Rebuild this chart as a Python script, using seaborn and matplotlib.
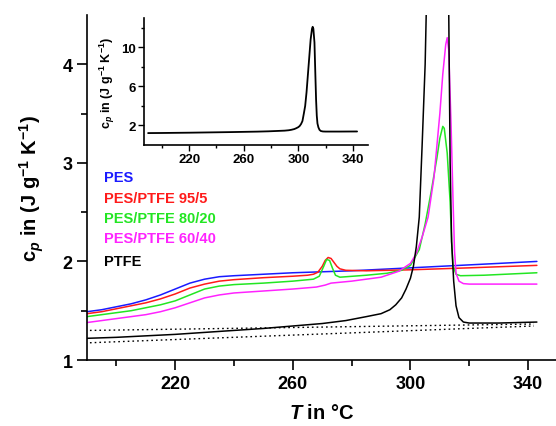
import matplotlib
matplotlib.use("Agg")
import matplotlib.pyplot as plt
import seaborn as sns
import pandas as pd
from matplotlib.ticker import FixedLocator

# ---------------- data ----------------
T_pes = [190, 195, 200, 205, 210, 215, 220, 225, 230, 235, 240, 250, 260, 270, 280, 290, 300, 310, 320, 330, 343]
cp_pes = [1.49, 1.51, 1.54, 1.57, 1.61, 1.66, 1.72, 1.78, 1.82, 1.845, 1.855, 1.87, 1.885, 1.895, 1.905, 1.92, 1.935, 1.95, 1.965, 1.98, 2.0]

T_955 = [190, 195, 200, 205, 210, 215, 220, 225, 230, 235, 240, 250, 260, 265, 267, 268.5, 270, 271, 272, 273, 274, 275, 276, 278, 285, 300, 320, 343]
cp_955 = [1.47, 1.49, 1.52, 1.55, 1.58, 1.62, 1.67, 1.73, 1.77, 1.80, 1.815, 1.835, 1.85, 1.86, 1.87, 1.89, 1.95, 2.01, 2.04, 2.03, 1.99, 1.95, 1.925, 1.91, 1.905, 1.915, 1.935, 1.96]

T_8020 = [190, 195, 200, 205, 210, 215, 220, 225, 230, 235, 240, 250, 260, 267, 269, 270.5, 271.5, 272.5, 273.5, 274.5, 276, 285, 292, 297, 300, 303, 305, 307, 309, 310, 311, 311.5, 312.5, 313.5, 314, 314.5, 315.5, 317, 325, 343]
cp_8020 = [1.44, 1.46, 1.48, 1.50, 1.53, 1.56, 1.60, 1.66, 1.72, 1.75, 1.765, 1.78, 1.80, 1.82, 1.85, 1.95, 2.02, 2.01, 1.93, 1.86, 1.84, 1.86, 1.88, 1.91, 1.96, 2.12, 2.38, 2.70, 3.05, 3.25, 3.37, 3.35, 3.10, 2.60, 2.20, 1.95, 1.87, 1.855, 1.86, 1.885]

T_6040 = [190, 195, 200, 205, 210, 215, 220, 225, 230, 235, 240, 250, 260, 268, 271, 273, 280, 290, 296, 300, 302, 304, 306, 308, 310, 311, 312, 312.5, 313, 313.8, 314.5, 315, 315.5, 316.5, 318, 320, 343]
cp_6040 = [1.38, 1.40, 1.42, 1.44, 1.46, 1.49, 1.53, 1.58, 1.63, 1.66, 1.68, 1.70, 1.72, 1.74, 1.76, 1.78, 1.80, 1.84, 1.90, 1.98, 2.08, 2.25, 2.45, 2.85, 3.50, 3.90, 4.20, 4.27, 4.15, 3.40, 2.60, 2.10, 1.88, 1.80, 1.775, 1.77, 1.77]

T_ptfe = [190, 200, 210, 220, 230, 240, 250, 260, 270, 278, 285, 290, 293, 295, 297, 298.5, 300, 301, 302, 303, 304, 305, 306, 307, 308, 309, 310, 310.5, 311, 311.8, 312.5, 313, 313.5, 314, 314.7, 315.5, 316.5, 318, 320, 330, 343]
cp_ptfe = [1.22, 1.23, 1.245, 1.26, 1.28, 1.30, 1.32, 1.345, 1.37, 1.40, 1.44, 1.47, 1.51, 1.56, 1.63, 1.72, 1.83, 1.95, 2.15, 2.45, 3.20, 4.00, 5.40, 7.20, 9.00, 10.80, 11.90, 12.10, 11.90, 10.50, 7.00, 4.60, 3.00, 2.20, 1.80, 1.55, 1.43, 1.385, 1.375, 1.375, 1.385]

T_base = [191, 342]
cp_base_upper = [1.30, 1.365]
cp_base_lower = [1.175, 1.345]

labels = ["PES", "PES/PTFE 95/5", "PES/PTFE 80/20", "PES/PTFE 60/40", "PTFE"]
colors = ["#1a1aff", "#ff1a1a", "#22e622", "#ff22ff", "#000000"]

main_xticks = [220, 260, 300, 340]
main_xminor = [200, 240, 280, 320]
main_yticks = [1, 2, 3, 4]
main_yminor = [1.5, 2.5, 3.5]
inset_xticks = [220, 260, 300, 340]
inset_xminor = [200, 240, 280, 320]
inset_yticks = [2, 6, 10]
inset_yminor = [4, 8, 12]

# ---------------- style ----------------
sns.set_style("ticks")
plt.rcParams["font.family"] = ["Liberation Sans", "DejaVu Sans"]
plt.rcParams["font.weight"] = "bold"
plt.rcParams["mathtext.fontset"] = "custom"
plt.rcParams["mathtext.rm"] = "Liberation Sans:bold"
plt.rcParams["mathtext.bf"] = "Liberation Sans:bold"
plt.rcParams["mathtext.it"] = "Liberation Sans:bold:italic"
plt.rcParams["axes.linewidth"] = 1.2
for k in ["text.color", "axes.labelcolor", "xtick.color", "ytick.color", "axes.edgecolor"]:
    plt.rcParams[k] = "black"

W, H = 556, 427
fig = plt.figure(figsize=(W / 100, H / 100), dpi=100)
ax = fig.add_axes([87 / W, 1 - 361 / H, (W - 87) / W, (361 - 16) / H])

series = [(T_pes, cp_pes), (T_955, cp_955), (T_8020, cp_8020), (T_6040, cp_6040), (T_ptfe, cp_ptfe)]
for (t, c), lab, col in zip(series, labels, colors):
    df = pd.DataFrame({"T": t, "cp": c})
    sns.lineplot(data=df, x="T", y="cp", ax=ax, color=col, lw=1.1, sort=False, estimator=None)

for cpb in (cp_base_upper, cp_base_lower):
    dfb = pd.DataFrame({"T": T_base, "cp": cpb})
    sns.lineplot(data=dfb, x="T", y="cp", ax=ax, color="black", lw=1.0,
                 linestyle=(0, (1.2, 2.2)), sort=False, estimator=None)

ax.set_xlim(190, 349.5)
ax.set_ylim(1, 4.5)
ax.xaxis.set_major_locator(FixedLocator(main_xticks))
ax.xaxis.set_minor_locator(FixedLocator(main_xminor))
ax.yaxis.set_major_locator(FixedLocator(main_yticks))
ax.yaxis.set_minor_locator(FixedLocator(main_yminor))
ax.tick_params(which="major", length=7, width=1.2, labelsize=13, direction="out", colors="black")
ax.tick_params(which="minor", length=4, width=1.2, direction="out", colors="black")
for lab in ax.get_xticklabels() + ax.get_yticklabels():
    lab.set_fontweight("bold")
sns.despine(ax=ax)
ax.set_xlabel("$T$ in °C", fontsize=14.5, fontweight="bold", labelpad=8, color="black")
ax.set_ylabel("c$_p$ in (J g$^{-1}$ K$^{-1}$)", fontsize=14.5, fontweight="bold", labelpad=12, color="black")

# legend as coloured text
ys = [178.5, 199.5, 219, 239.5, 261.5]
for lab, col, y in zip(labels, colors, ys):
    fig.text(104 / W, 1 - y / H, lab, color=col, fontsize=10.5, fontweight="bold", va="center", ha="left")

# ---------------- inset ----------------
ins = fig.add_axes([144 / W, 1 - 146 / H, (368 - 144) / W, (146 - 19) / H])
ins.set_facecolor("white")
dfp = pd.DataFrame({"T": T_ptfe, "cp": cp_ptfe})
sns.lineplot(data=dfp, x="T", y="cp", ax=ins, color="black", lw=1.3, sort=False, estimator=None)
ins.set_xlim(187, 351)
ins.set_ylim(0, 13)
ins.xaxis.set_major_locator(FixedLocator(inset_xticks))
ins.xaxis.set_minor_locator(FixedLocator(inset_xminor))
ins.yaxis.set_major_locator(FixedLocator(inset_yticks))
ins.yaxis.set_minor_locator(FixedLocator(inset_yminor))
ins.tick_params(which="major", length=4, width=1.0, labelsize=9.5, direction="out", pad=2, colors="black")
ins.tick_params(which="minor", length=2.5, width=1.0, direction="out", colors="black")
for lab in ins.get_xticklabels() + ins.get_yticklabels():
    lab.set_fontweight("bold")
sns.despine(ax=ins)
ins.set_xlabel("")
ins.set_ylabel("c$_p$ in (J g$^{-1}$ K$^{-1}$)", fontsize=9, fontweight="bold", labelpad=3, color="black")

fig.savefig("out.png", dpi=100)
